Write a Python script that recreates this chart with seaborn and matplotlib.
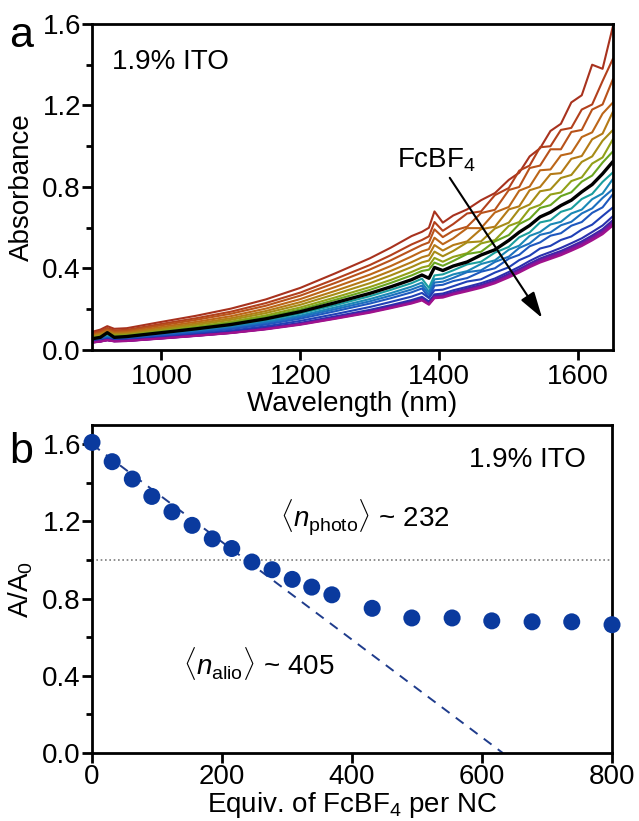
import matplotlib
matplotlib.use("Agg")
import matplotlib.pyplot as plt
from matplotlib.patches import ArrowStyle
from matplotlib.ticker import MultipleLocator, FormatStrFormatter
import numpy as np
import pandas as pd
import seaborn as sns

# ---------------- panel a: absorption spectra during FcBF4 titration ----------------
wavelength = [900, 912, 922, 932, 950, 1000, 1050, 1100, 1150, 1200, 1250, 1300,
              1330, 1360, 1375, 1385, 1393, 1405, 1420, 1440, 1460, 1480, 1500,
              1515, 1530, 1545, 1560, 1575, 1590, 1605, 1620, 1635, 1650]

spec_00 = [.089, .100, .117, .104, .107, .138, .168, .203, .248, .305, .376, .450, .502, .559, .580, .600, .680,
           .625, .660, .690, .735, .770, .835, .870, .950, .990, 1.075, 1.110, 1.215, 1.250, 1.400, 1.380, 1.590]
spec_01 = [.083, .093, .108, .096, .099, .128, .156, .188, .230, .282, .348, .417, .465, .518, .540, .558, .628,
           .585, .618, .670, .680, .760, .795, .880, .905, .995, 1.000, 1.080, 1.090, 1.180, 1.205, 1.320, 1.430]
spec_02 = [.078, .088, .102, .091, .094, .121, .148, .178, .217, .267, .329, .395, .440, .490, .515, .528, .592,
           .554, .585, .605, .672, .688, .785, .800, .893, .905, .985, .985, 1.070, 1.080, 1.180, 1.205, 1.330]
spec_03 = [.073, .082, .096, .085, .088, .113, .138, .166, .203, .250, .309, .370, .412, .459, .484, .495, .551,
           .519, .548, .598, .598, .675, .702, .782, .802, .882, .886, .955, .966, 1.045, 1.068, 1.160, 1.215]
spec_04 = [.069, .078, .090, .080, .083, .106, .130, .156, .191, .235, .290, .348, .388, .431, .455, .465, .515,
           .488, .515, .533, .593, .605, .690, .705, .784, .800, .863, .868, .938, .952, 1.034, 1.062, 1.170]
spec_05 = [.065, .073, .085, .076, .078, .100, .123, .148, .181, .222, .274, .328, .366, .407, .430, .439, .483,
           .460, .486, .528, .533, .596, .625, .691, .714, .779, .788, .844, .859, .923, .950, 1.027, 1.080]
spec_06 = [.061, .069, .080, .071, .073, .094, .115, .139, .170, .209, .258, .309, .344, .383, .405, .413, .452,
           .433, .457, .475, .523, .539, .609, .628, .693, .712, .763, .773, .829, .847, .915, .945, 1.035]
spec_07 = [.058, .066, .076, .068, .070, .090, .110, .133, .162, .199, .246, .295, .329, .366, .388, .394, .429,
           .413, .437, .471, .482, .533, .564, .618, .644, .697, .711, .755, .774, .826, .856, .920, .975]
spec_08 = [.055, .062, .085, .062, .066, .085, .104, .125, .153, .188, .232, .278, .310, .345, .368, .352, .405,
           .390, .412, .432, .466, .492, .538, .578, .611, .653, .676, .709, .735, .776, .812, .865, .925]
spec_09 = [.052, .059, .068, .061, .063, .081, .099, .119, .145, .179, .220, .264, .295, .328, .350, .305, .366,
           .371, .391, .420, .433, .478, .506, .553, .577, .626, .637, .678, .694, .741, .766, .825, .872]
spec_10 = [.050, .056, .065, .058, .059, .077, .094, .113, .138, .169, .209, .250, .279, .311, .331, .286, .347,
           .351, .371, .387, .422, .440, .492, .512, .560, .579, .616, .629, .670, .689, .740, .768, .840]
spec_11 = [.047, .053, .062, .055, .057, .073, .089, .108, .132, .162, .200, .239, .267, .297, .316, .272, .331,
           .335, .354, .382, .391, .432, .458, .501, .523, .565, .577, .612, .629, .670, .695, .746, .790]
spec_12 = [.045, .051, .059, .052, .054, .070, .085, .103, .125, .154, .190, .228, .254, .283, .302, .257, .316,
           .320, .338, .353, .384, .401, .448, .467, .509, .528, .561, .573, .610, .628, .673, .700, .765]
spec_13 = [.042, .047, .055, .049, .050, .065, .079, .095, .116, .143, .176, .211, .236, .262, .280, .255, .293,
           .296, .313, .336, .347, .380, .406, .441, .463, .498, .511, .540, .557, .591, .615, .658, .700]
spec_14 = [.039, .044, .051, .045, .047, .060, .074, .089, .109, .133, .165, .197, .220, .245, .261, .238, .273,
           .277, .293, .310, .328, .351, .383, .408, .437, .462, .481, .501, .524, .548, .579, .611, .657]
spec_15 = [.038, .043, .050, .044, .046, .059, .072, .086, .106, .130, .160, .192, .214, .238, .254, .232, .266,
           .269, .284, .302, .319, .342, .373, .397, .424, .449, .468, .486, .509, .533, .562, .593, .638]
spec_16 = [.037, .042, .049, .044, .045, .058, .071, .085, .104, .128, .158, .189, .211, .235, .250, .228, .262,
           .265, .280, .297, .314, .337, .367, .391, .418, .442, .461, .479, .502, .525, .554, .585, .629]
spec_17 = [.037, .042, .049, .043, .045, .057, .070, .084, .103, .127, .157, .188, .209, .233, .248, .226, .260,
           .263, .278, .295, .312, .334, .365, .388, .415, .439, .458, .476, .498, .521, .550, .581, .624]
spec_18 = [.037, .042, .048, .043, .044, .057, .070, .084, .103, .126, .155, .186, .208, .231, .247, .225, .258,
           .261, .276, .293, .310, .332, .362, .385, .412, .436, .454, .472, .494, .517, .546, .576, .620]
spec_19 = [.036, .041, .048, .042, .044, .056, .069, .083, .101, .124, .153, .183, .205, .228, .243, .222, .254,
           .257, .272, .288, .305, .327, .356, .380, .406, .429, .447, .465, .487, .510, .538, .568, .611]

spectra = [spec_00, spec_01, spec_02, spec_03, spec_04, spec_05, spec_06, spec_07, spec_08, spec_09,
           spec_10, spec_11, spec_12, spec_13, spec_14, spec_15, spec_16, spec_17, spec_18, spec_19]
reference_index = 8  # spectrum drawn in black

spectrum_colors = ["#A8321E", "#B2401C", "#B8521A", "#BC6618", "#B47A16", "#A68C16", "#92A018",
                   "#68A420", "black", "#1A9E9E", "#1A88B6", "#1C70BE", "#1E58BE", "#2040B6",
                   "#2A30AE", "#3C26A8", "#5620A6", "#701AA0", "#8A1498", "#A0128C"]

# ---------------- panel b: normalised absorbance vs. equivalents ----------------
equiv = [0, 31, 62, 92, 123, 154, 185, 215, 246, 277, 308, 338, 369, 431, 492, 554, 615, 677, 738, 800]
ratio = [1.61, 1.51, 1.42, 1.33, 1.25, 1.18, 1.11, 1.06, 0.99, 0.95, 0.90, 0.86, 0.82, 0.75, 0.70,
         0.70, 0.685, 0.68, 0.68, 0.665]
fit_equiv = [0, 632]
fit_ratio = [1.60, 0.0]
unity_level = 1.0

# ---------------- style ----------------
sns.set_theme(style="ticks")
plt.rcParams.update({
    "font.family": ["Liberation Sans", "DejaVu Sans"],
    "mathtext.fontset": "custom",
    "mathtext.rm": "Liberation Sans",
    "mathtext.it": "Liberation Sans:italic",
    "mathtext.bf": "Liberation Sans:bold",
    "font.size": 20,
    "text.color": "black",
    "axes.labelcolor": "black",
    "axes.linewidth": 2.0,
    "axes.edgecolor": "black",
    "xtick.color": "black",
    "ytick.color": "black",
    "xtick.labelcolor": "black",
    "ytick.labelcolor": "black",
    "xtick.major.size": 7, "ytick.major.size": 7,
    "xtick.major.width": 2.0, "ytick.major.width": 2.0,
    "ytick.minor.size": 4, "ytick.minor.width": 2.0,
    "xtick.direction": "out", "ytick.direction": "out",
})

fig = plt.figure(figsize=(6.39, 8.21), dpi=100)
ax1 = fig.add_axes([0.1440, 0.5737, 0.8153, 0.3971])
ax2 = fig.add_axes([0.1440, 0.0828, 0.8138, 0.3995])

# spectra
rows = []
for idx, vals in enumerate(spectra):
    if len(vals) != len(wavelength):
        raise ValueError(f"spectrum {idx} has {len(vals)} points")
    for w, v in zip(wavelength, vals):
        rows.append((w, v, idx))
spec_df = pd.DataFrame(rows, columns=["wavelength", "absorbance", "curve"])

colored = spec_df[spec_df["curve"] != reference_index]
palette = {i: c for i, c in enumerate(spectrum_colors) if i != reference_index}
sns.lineplot(data=colored, x="wavelength", y="absorbance", hue="curve", palette=palette,
             estimator=None, sort=False, legend=False, lw=1.5, ax=ax1)
sns.lineplot(data=spec_df[spec_df["curve"] == reference_index], x="wavelength", y="absorbance",
             color="black", estimator=None, sort=False, lw=2.4, ax=ax1, zorder=5)

ax1.set_xlim(900, 1650)
ax1.set_ylim(0, 1.6)
ax1.set_xticks([1000, 1200, 1400, 1600])
ax1.yaxis.set_major_locator(MultipleLocator(0.4))
ax1.yaxis.set_minor_locator(MultipleLocator(0.2))
ax1.yaxis.set_major_formatter(FormatStrFormatter("%.1f"))
ax1.set_xlabel("Wavelength (nm)", fontsize=20, labelpad=1)
ax1.set_ylabel("Absorbance", fontsize=20, labelpad=5)
ax1.tick_params(axis="y", which="both", pad=1, labelsize=20)
ax1.tick_params(axis="x", pad=3, labelsize=20)
ax1.text(0.038, 0.883, "1.9% ITO", transform=ax1.transAxes, fontsize=20, ha="left", va="center")
ax1.text(1396, 0.93, "FcBF$_4$", fontsize=20, ha="center", va="center")
ax1.annotate("", xy=(1548, 0.157), xytext=(1415, 0.845),
             arrowprops=dict(arrowstyle=ArrowStyle("-|>", head_length=1.0, head_width=0.3),
                             mutation_scale=16, color="black", lw=1.5, shrinkA=0, shrinkB=0))

# titration points
ax2.axhline(unity_level, color="#7c7c7c", lw=1.2, linestyle=(0, (1, 1.6)), zorder=1)
ax2.plot(fit_equiv, fit_ratio, color="#1F3C8C", lw=1.4, linestyle=(0, (5, 4)), zorder=2)
sns.scatterplot(x=equiv, y=ratio, s=150, color="#0A3A9E", edgecolor="none", linewidth=0,
                ax=ax2, clip_on=False, zorder=3)

ax2.set_xlim(0, 800)
ax2.set_ylim(0, 1.7)
ax2.set_xticks([0, 200, 400, 600, 800])
ax2.set_yticks([0.0, 0.4, 0.8, 1.2, 1.6])
ax2.yaxis.set_minor_locator(MultipleLocator(0.2))
ax2.yaxis.set_major_formatter(FormatStrFormatter("%.1f"))
ax2.set_xlabel("Equiv. of FcBF$_4$ per NC", fontsize=20, labelpad=0)
ax2.set_ylabel("A/A$_0$", fontsize=20, labelpad=5)
ax2.tick_params(axis="y", which="both", pad=1, labelsize=20)
ax2.tick_params(axis="x", pad=1, labelsize=20)
ax2.text(0.95, 0.893, "1.9% ITO", transform=ax2.transAxes, fontsize=20, ha="right", va="center")
ax2.text(0.362, 0.716, r"$\langle n_{\mathrm{photo}}\rangle$ ~ 232", transform=ax2.transAxes,
         fontsize=20, ha="left", va="center")
ax2.text(0.175, 0.274, r"$\langle n_{\mathrm{alio}}\rangle$ ~ 405", transform=ax2.transAxes,
         fontsize=20, ha="left", va="center")

for ax in (ax1, ax2):
    for side in ("top", "right", "left", "bottom"):
        ax.spines[side].set_visible(True)
        ax.spines[side].set_linewidth(2.0)

fig.text(0.014, 0.9428, "a", fontsize=31, va="baseline", ha="left")
fig.text(0.014, 0.4361, "b", fontsize=31, va="baseline", ha="left")

fig.savefig("out.png", dpi=100)
